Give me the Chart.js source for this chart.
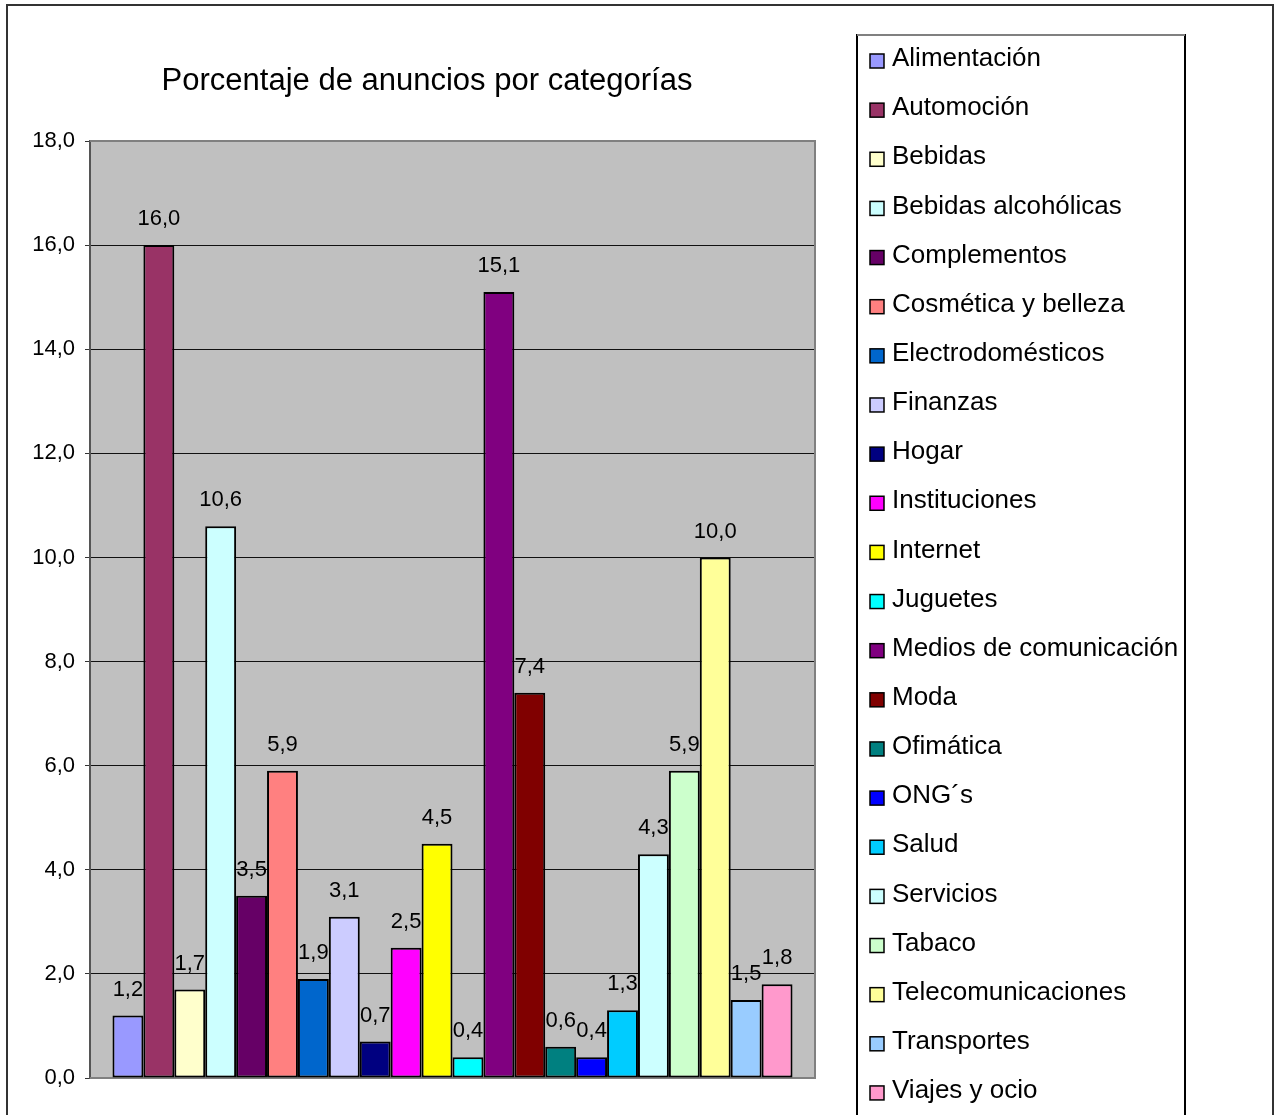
<!DOCTYPE html>
<html>
<head>
<meta charset="utf-8">
<script src="https://cdn.jsdelivr.net/npm/chart.js@4/dist/chart.umd.min.js"></script>
<style>
  html, body { margin: 0; padding: 0; background: #fff; overflow: hidden; }
  canvas { display: block; }
</style>
</head>
<body>
<canvas id="myChart" width="1279" height="1115"></canvas>
<script>
const categories = [
    'Alimentación', 'Automoción', 'Bebidas', 'Bebidas alcohólicas', 'Complementos',
    'Cosmética y belleza', 'Electrodomésticos', 'Finanzas', 'Hogar', 'Instituciones',
    'Internet', 'Juguetes', 'Medios de comunicación', 'Moda', 'Ofimática',
    'ONG´s', 'Salud', 'Servicios', 'Tabaco', 'Telecomunicaciones',
    'Transportes', 'Viajes y ocio'
];
const values = [1.2, 16.0, 1.7, 10.6, 3.5, 5.9, 1.9, 3.1, 0.7, 2.5, 4.5, 0.4, 15.1, 7.4, 0.6, 0.4, 1.3, 4.3, 5.9, 10.0, 1.5, 1.8];
const colors = [
    '#9999FF', '#993366', '#FFFFCC', '#CCFFFF', '#660066',
    '#FF8080', '#0066CC', '#CCCCFF', '#000080', '#FF00FF',
    '#FFFF00', '#00FFFF', '#800080', '#800000', '#008080',
    '#0000FF', '#00CCFF', '#CCFFFF', '#CCFFCC', '#FFFF99',
    '#99CCFF', '#FF99CC'
];
const title = 'Porcentaje de anuncios por categorías';
const yMin = 0;
const yMax = 18;
const yStep = 2;

const font = 'Liberation Sans, Arial, sans-serif';

function fmt(v) {
    return v.toFixed(1).replace('.', ',');
}

// background, frame, title, value labels and legend box
const decor = {
    id: 'decor',
    beforeDraw(chart) {
        const ctx = chart.ctx;
        const a = chart.chartArea;
        ctx.save();
        ctx.fillStyle = '#fff';
        ctx.fillRect(0, 0, chart.width, chart.height);
        ctx.strokeStyle = '#333';
        ctx.lineWidth = 2;
        ctx.strokeRect(7, 5, 1266, 1130);
        ctx.fillStyle = '#C0C0C0';
        ctx.fillRect(a.left, a.top, a.right - a.left, a.bottom - a.top);
        ctx.fillStyle = '#000';
        ctx.font = '31px ' + font;
        ctx.textAlign = 'center';
        ctx.textBaseline = 'middle';
        ctx.fillText(title, 427, 81);
        ctx.restore();
    },
    beforeDatasetsDraw(chart) {
        const ctx = chart.ctx;
        const a = chart.chartArea;
        ctx.save();
        ctx.strokeStyle = '#808080';
        ctx.lineWidth = 2;
        ctx.beginPath();
        ctx.moveTo(a.left, a.top);
        ctx.lineTo(a.right, a.top);
        ctx.lineTo(a.right, a.bottom);
        ctx.lineTo(a.left, a.bottom);
        ctx.stroke();
        ctx.restore();
    },
    afterDatasetsDraw(chart) {
        const ctx = chart.ctx;
        ctx.save();
        ctx.fillStyle = '#000';
        ctx.font = '22px ' + font;
        ctx.textAlign = 'center';
        ctx.textBaseline = 'middle';
        values.forEach((v, i) => {
            const el = chart.getDatasetMeta(i).data[0];
            ctx.fillText(fmt(v), el.x, el.y - 26);
        });

        // legend
        ctx.strokeStyle = '#000';
        ctx.lineWidth = 2;
        ctx.strokeRect(857, 35, 328, 1100);
        ctx.strokeStyle = '#808080';
        ctx.beginPath();
        ctx.moveTo(857, 35);
        ctx.lineTo(1185, 35);
        ctx.stroke();
        ctx.font = '26px ' + font;
        ctx.textAlign = 'left';
        categories.forEach((c, i) => {
            const y = 59 + i * 49.14;
            ctx.fillStyle = colors[i];
            ctx.fillRect(870, y - 5, 14, 14);
            ctx.strokeStyle = '#000';
            ctx.lineWidth = 1.5;
            ctx.strokeRect(870, y - 5, 14, 14);
            ctx.fillStyle = '#000';
            ctx.fillText(c, 892, y);
        });
        ctx.restore();
    }
};

const data = {
    labels: [''],
    datasets: categories.map((c, i) => ({
        label: c,
        data: [values[i]],
        backgroundColor: colors[i],
        borderColor: '#000',
        borderWidth: 2,
        borderSkipped: false
    }))
};

const config = {
    type: 'bar',
    data: data,
    options: {
        responsive: false,
        animation: false,
        layout: {
            padding: { left: 0, right: 464, top: 141, bottom: 37 }
        },
        datasets: {
            bar: { categoryPercentage: 0.938, barPercentage: 1 }
        },
        plugins: {
            legend: { display: false },
            title: { display: false },
            tooltip: { enabled: false }
        },
        scales: {
            x: { display: false },
            y: {
                min: yMin,
                max: yMax,
                afterFit: function (scale) { scale.width = 90; },
                border: { color: '#555', width: 2 },
                grid: {
                    color: (c) => (c.tick && (c.tick.value === yMin || c.tick.value === yMax)) ? 'rgba(0,0,0,0)' : '#111',
                    tickColor: '#333',
                    tickLength: 5,
                    lineWidth: 1
                },
                ticks: {
                    stepSize: yStep,
                    padding: 10,
                    color: '#000',
                    font: { family: font, size: 22 },
                    callback: (v) => fmt(v)
                }
            }
        }
    },
    plugins: [decor]
};

let myChart = document.getElementById('myChart');
let adsChart = new Chart(myChart, config);
</script>
</body>
</html>
